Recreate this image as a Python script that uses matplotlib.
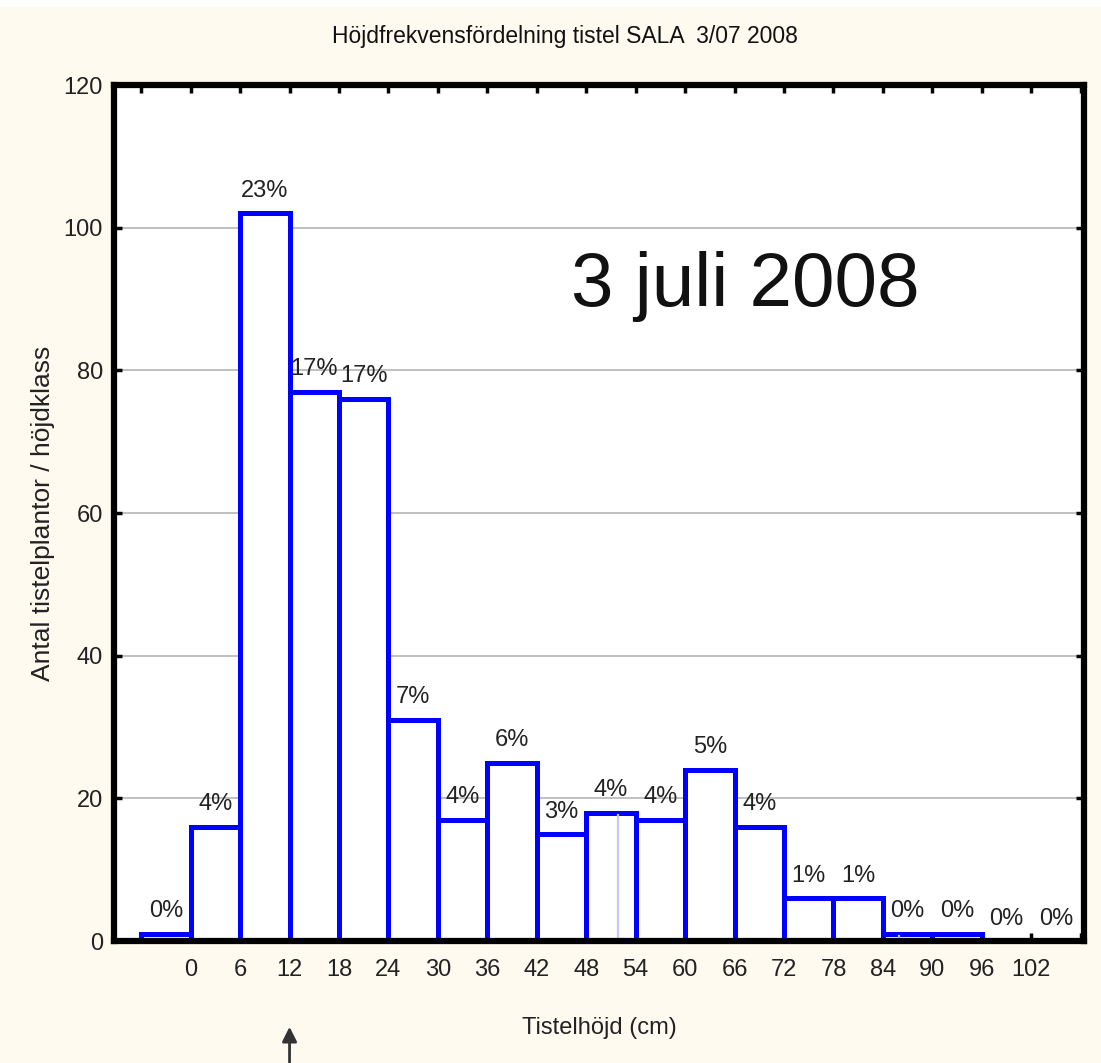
import matplotlib
matplotlib.use("Agg")
import matplotlib.pyplot as plt
from matplotlib.patches import Rectangle

plt.rcParams['font.family'] = ['Liberation Sans', 'DejaVu Sans']

# ---- data ----
bin_left = [-6, 0, 6, 12, 18, 24, 30, 36, 42, 48, 54, 60, 66, 72, 78, 84, 90, 96, 102]
counts = [1, 16, 102, 77, 76, 31, 17, 25, 15, 18, 17, 24, 16, 6, 6, 1, 1, 0, 0]
pct_labels = ['0%', '4%', '23%', '17%', '17%', '7%', '4%', '6%', '3%', '4%', '4%',
              '5%', '4%', '1%', '1%', '0%', '0%', '0%', '0%']
xtick_pos = [-6, 0, 6, 12, 18, 24, 30, 36, 42, 48, 54, 60, 66, 72, 78, 84, 90, 96, 102, 108]
xtick_labels = ['', '0', '6', '12', '18', '24', '30', '36', '42', '48', '54', '60', '66',
                '72', '78', '84', '90', '96', '102', '']
ytick_pos = [0, 20, 40, 60, 80, 100, 120]
marker_x = [51.8, 85.9]
marker_h = [18, 1]
arrow_x = 12

title = 'Höjdfrekvensfördelning tistel SALA  3/07 2008'
xlabel = 'Tistelhöjd (cm)'
ylabel = 'Antal tistelplantor / höjdklass'
annotation = '3 juli 2008'

# ---- figure ----
W, H = 1101, 1063
fig = plt.figure(figsize=(W / 100, H / 100), dpi=100, facecolor='#fffaf0')
fig.patches.append(Rectangle((0, 1 - 7 / H), 1, 7 / H, transform=fig.transFigure,
                             facecolor='white', edgecolor='none', zorder=0))
ax = fig.add_axes([114 / W, 1 - 941 / H, (1084 - 114) / W, (941 - 85) / H])
ax.set_facecolor('white')

ax.bar(bin_left, counts, width=6, align='edge', facecolor='white',
       edgecolor='#0000ff', linewidth=3.6, zorder=2)
for x, h in zip(marker_x, marker_h):
    ax.plot([x, x], [0, h - 0.3], color='#c8c8ff', linewidth=1.6, zorder=3)

for x, h, lab in zip(bin_left, counts, pct_labels):
    ax.text(x + 3, h + 1.6, lab, ha='center', va='bottom', fontsize=17, color='#222222', zorder=4)

ax.set_xlim(-9.3, 108.4)
ax.set_ylim(0, 120)
ax.set_yticks(ytick_pos)
ax.set_yticklabels([str(v) for v in ytick_pos])
ax.set_xticks(xtick_pos)
ax.set_xticklabels(xtick_labels)
ax.yaxis.grid(True, color='#c0c0c0', linewidth=1.4, zorder=0)
ax.set_axisbelow(True)
ax.tick_params(axis='both', direction='in', length=6, width=2.5, color='black',
               labelsize=17, labelcolor='#222222', top=True, right=True)
ax.tick_params(axis='x', pad=13)
ax.tick_params(axis='y', pad=8)
for s in ax.spines.values():
    s.set_linewidth(4.5)
    s.set_color('black')
    s.set_zorder(5)

ax.set_xlabel(xlabel, fontsize=17, color='#222222', labelpad=26)
ax.set_ylabel(ylabel, fontsize=19, color='#222222', labelpad=6)
fig.text(565 / W, 1 - 36 / H, title, ha='center', va='center', fontsize=16.5, color='#111111')
ax.text(0.651, 0.765, annotation, transform=ax.transAxes, ha='center',
        va='center', fontsize=55, color='#111111')

ax.annotate('', xy=(arrow_x, -0.097), xycoords=('data', 'axes fraction'),
            xytext=(arrow_x, -0.145), textcoords=('data', 'axes fraction'),
            arrowprops=dict(arrowstyle='-|>', color='#333333', lw=2, mutation_scale=22),
            annotation_clip=False)

fig.savefig('out.png', dpi=100, facecolor=fig.get_facecolor())
